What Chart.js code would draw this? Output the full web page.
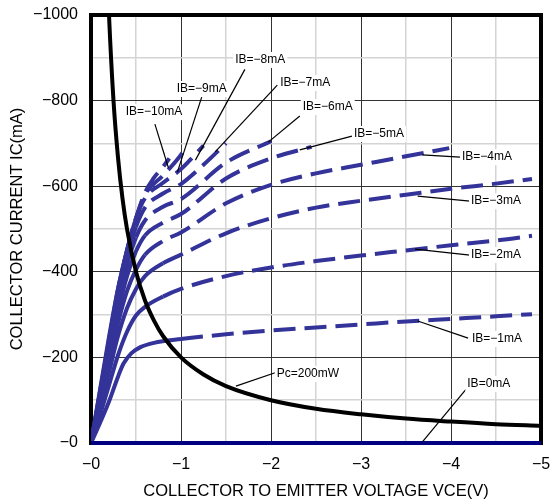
<!DOCTYPE html>
<html><head><meta charset="utf-8">
<script src="https://cdn.jsdelivr.net/npm/chart.js@4.4.0/dist/chart.umd.min.js"></script>
<style>html,body{margin:0;padding:0;background:#fff}</style>
</head><body>
<canvas id="c" width="550" height="501" style="display:block;width:550px;height:501px"></canvas>
<script>
// ---------- data ----------
const X_TICK_LABELS = [0, -1, -2, -3, -4, -5];
const Y_TICK_LABELS = [0, -200, -400, -600, -800, -1000];

const PC_LABEL = 'Pc=200mW';
const VCE_PC = [-0.18, -0.2, -0.25, -0.3, -0.35, -0.4, -0.5, -0.6, -0.7, -0.8, -1, -1.25, -1.5, -2, -2.5, -3, -3.5, -4, -4.5, -5];
const IC_PC  = [-1111, -1000, -800, -667, -571, -500, -400, -333, -286, -250, -200, -160, -133, -100, -80, -67, -57, -50, -44, -40];

const IB_LABELS = ['IB=0mA', 'IB=−1mA', 'IB=−2mA', 'IB=−3mA', 'IB=−4mA', 'IB=−5mA', 'IB=−6mA', 'IB=−7mA', 'IB=−8mA', 'IB=−9mA', 'IB=−10mA'];

const VCE_IB0  = [0, -5];
const IC_IB0   = [0, 0];
const VCE_IB1  = [0, -0.1, -0.2, -0.3, -0.36, -0.45, -0.55, -0.7, -1.0, -1.5, -2, -2.5, -3, -3.5, -4, -4.5, -4.9];
const IC_IB1   = [0, -47, -97, -155, -185, -210, -224, -234, -243, -254, -263, -270, -277, -284, -290, -296, -301];
const VCE_IB2  = [0, -0.1, -0.2, -0.3, -0.4, -0.5, -0.6, -0.8, -1.0, -1.5, -2, -2.5, -3, -3.5, -4, -4.5, -4.9];
const IC_IB2   = [0, -65, -135, -205, -260, -298, -318, -342, -360, -390, -410, -425, -438, -450, -462, -473, -484];
const VCE_IB3  = [0, -0.1, -0.2, -0.3, -0.4, -0.5, -0.6, -0.8, -1.0, -1.5, -2, -2.5, -3, -3.5, -4, -4.5, -4.9];
const IC_IB3   = [0, -80, -165, -250, -315, -360, -390, -420, -440, -490, -525, -550, -566, -580, -594, -606, -617];
const VCE_IB4  = [0, -0.1, -0.2, -0.3, -0.4, -0.5, -0.6, -0.8, -1.0, -1.5, -2, -2.5, -3, -3.5, -3.98];
const IC_IB4   = [0, -90, -185, -280, -355, -405, -440, -472, -492, -560, -603, -630, -650, -670, -689];
const VCE_IB5  = [0, -0.1, -0.2, -0.3, -0.4, -0.5, -0.6, -0.8, -1.0, -1.5, -2, -2.45];
const IC_IB5   = [0, -98, -200, -305, -390, -448, -485, -515, -535, -618, -665, -692];
const VCE_IB6  = [0, -0.1, -0.2, -0.3, -0.4, -0.5, -0.6, -0.8, -1.0, -1.5, -2.0];
const IC_IB6   = [0, -104, -212, -322, -415, -480, -520, -552, -570, -655, -705];
const VCE_IB7  = [0, -0.1, -0.2, -0.3, -0.4, -0.5, -0.6, -0.8, -1.0, -1.25, -1.5];
const IC_IB7   = [0, -110, -222, -338, -435, -505, -550, -583, -605, -650, -700];
const VCE_IB8  = [0, -0.1, -0.2, -0.3, -0.4, -0.5, -0.6, -0.8, -1.0, -1.25];
const IC_IB8   = [0, -115, -232, -350, -450, -525, -572, -608, -640, -695];
const VCE_IB9  = [0, -0.1, -0.2, -0.3, -0.4, -0.5, -0.6, -0.8, -0.95, -1.05];
const IC_IB9   = [0, -120, -240, -360, -450, -525, -580, -625, -660, -688];
const VCE_IB10 = [0, -0.1, -0.2, -0.3, -0.4, -0.5, -0.6, -0.7, -0.8, -0.87];
const IC_IB10  = [0, -124, -248, -360, -450, -525, -585, -620, -645, -665];

// ---------- styles ----------
const FAMILY = '"Liberation Sans", Arial, sans-serif';
const CURVE_COLOR = '#333399';
const DASH_FROM = [0, 0.9, 0.8, 0.7, 0.6, 0.55, 0.5, 0.45, 0.42, 0.4, 0.38]; // |VCE| where dashing starts

const SERIES = [
  [VCE_IB0, IC_IB0], [VCE_IB1, IC_IB1], [VCE_IB2, IC_IB2], [VCE_IB3, IC_IB3], [VCE_IB4, IC_IB4],
  [VCE_IB5, IC_IB5], [VCE_IB6, IC_IB6], [VCE_IB7, IC_IB7], [VCE_IB8, IC_IB8], [VCE_IB9, IC_IB9], [VCE_IB10, IC_IB10]
];

const toPoints = (xs, ys) => xs.map((x, i) => ({x, y: ys[i]}));

const datasets = [{
  label: PC_LABEL,
  data: toPoints(VCE_PC, IC_PC),
  borderColor: '#000',
  borderWidth: 4,
  cubicInterpolationMode: 'monotone',
  pointRadius: 0,
  clip: 0,
  order: 0
}];
SERIES.forEach(([xs, ys], i) => {
  if (i === 0) {
    datasets.push({label: IB_LABELS[0], data: toPoints(xs, ys), borderColor: '#000080', borderWidth: 4, pointRadius: 0, order: 1, clip: false});
  } else {
    const from = DASH_FROM[i];
    datasets.push({
      label: IB_LABELS[i],
      data: toPoints(xs, ys),
      borderColor: CURVE_COLOR,
      borderWidth: 4,
      pointRadius: 0,
      cubicInterpolationMode: 'monotone',
      order: 2,
      segment: {
        borderDash: c => Math.abs(c.p0.parsed.x) >= from - 1e-9 ? [22, 9] : undefined
      }
    });
  }
});

// annotation layout (data coordinates)
const ANNOTS = [
  {text: 'IB=−10mA', at: [-0.70, -773], from: [-0.71, -745], to: [-0.86, -643]},
  {text: 'IB=−9mA',  at: [-1.23, -827], from: [-1.23, -808], to: [-0.96, -633]},
  {text: 'IB=−8mA',  at: [-1.88, -895], from: [-1.71, -873], to: [-1.16, -661]},
  {text: 'IB=−7mA',  at: [-2.38, -841], from: [-2.07, -836], to: [-1.38, -680]},
  {text: 'IB=−6mA',  at: [-2.63, -785], from: [-2.32, -764], to: [-1.97, -703]},
  {text: 'IB=−5mA',  at: [-3.20, -722], from: [-2.90, -717], to: [-2.32, -685]},
  {text: 'IB=−4mA',  at: [-4.40, -668], from: [-4.10, -668], to: [-3.68, -673]},
  {text: 'IB=−3mA',  at: [-4.50, -565], from: [-4.21, -565], to: [-3.63, -577]},
  {text: 'IB=−2mA',  at: [-4.50, -439], from: [-4.21, -439], to: [-3.60, -453]},
  {text: 'IB=−1mA',  at: [-4.51, -243], from: [-4.19, -245], to: [-3.63, -285]},
  {text: 'IB=0mA',   at: [-4.42, -138], from: [-4.18, -129], to: [-3.68, -2]},
  {text: 'Pc=200mW', at: [-2.41, -161], from: [-2.07, -166], to: [-1.61, -133]}
];

const framePlugin = {
  id: 'frame',
  beforeDatasetsDraw(chart) {
    const {ctx, chartArea: a} = chart;
    ctx.save();
    ctx.strokeStyle = '#000';
    ctx.lineWidth = 4;
    ctx.strokeRect(a.left, a.top, a.right - a.left, a.bottom - a.top);
    ctx.restore();
  }
};

const annotPlugin = {
  id: 'annots',
  afterDatasetsDraw(chart) {
    const {ctx, scales: {x, y}} = chart;
    ctx.save();
    ctx.strokeStyle = '#000';
    ctx.lineWidth = 1.2;
    ANNOTS.forEach(a => {
      ctx.beginPath();
      ctx.moveTo(x.getPixelForValue(a.from[0]), y.getPixelForValue(a.from[1]));
      ctx.lineTo(x.getPixelForValue(a.to[0]), y.getPixelForValue(a.to[1]));
      ctx.stroke();
    });
    ctx.font = '12px ' + FAMILY;
    ctx.textAlign = 'center';
    ctx.textBaseline = 'middle';
    ANNOTS.forEach(a => {
      const px = x.getPixelForValue(a.at[0]), py = y.getPixelForValue(a.at[1]);
      const w = ctx.measureText(a.text).width;
      ctx.fillStyle = '#fff';
      ctx.fillRect(px - w / 2 - 2, py - 8, w + 4, 16);
      ctx.fillStyle = '#000';
      ctx.fillText(a.text, px, py);
    });
    ctx.restore();
  }
};

const isMultiple = (v, step) => Math.abs(v / step - Math.round(v / step)) < 1e-6;
const fmtNeg = v => '−' + Math.abs(Math.round(v));

new Chart(document.getElementById('c'), {
  type: 'line',
  data: {datasets},
  options: {
    responsive: false,
    animation: false,
    devicePixelRatio: 1,
    layout: {padding: {top: 15, right: 9, left: 0, bottom: 0}},
    plugins: {legend: {display: false}, tooltip: {enabled: false}},
    scales: {
      x: {
        type: 'linear', min: -5, max: 0, reverse: true,
        ticks: {
          stepSize: 0.5, autoSkip: false, maxRotation: 0, padding: 12, color: '#000',
          font: {family: FAMILY, size: 16},
          callback: v => X_TICK_LABELS.some(t => Math.abs(t - v) < 1e-6) ? fmtNeg(v) : ''
        },
        grid: {
          drawTicks: false,
          color: c => isMultiple(c.tick.value, 1) ? '#333' : '#d4d4d4',
          lineWidth: c => isMultiple(c.tick.value, 1) ? 1 : 1.5
        },
        border: {display: false},
        title: {display: true, text: 'COLLECTOR TO EMITTER VOLTAGE VCE(V)', color: '#000',
          font: {family: FAMILY, size: 16.5}, padding: {top: 0, bottom: 0}},
        afterFit: s => { s.height = 58; s.paddingLeft = 0; s.paddingRight = 0; }
      },
      y: {
        type: 'linear', min: -1000, max: 0, reverse: true,
        ticks: {
          stepSize: 100, autoSkip: false, padding: 13, color: '#000',
          font: {family: FAMILY, size: 16},
          callback: v => Y_TICK_LABELS.some(t => Math.abs(t - v) < 1e-6) ? fmtNeg(v) : ''
        },
        grid: {
          drawTicks: false,
          color: c => isMultiple(c.tick.value, 200) ? '#333' : '#d4d4d4',
          lineWidth: c => isMultiple(c.tick.value, 200) ? 1 : 1.5
        },
        border: {display: false},
        title: {display: true, text: 'COLLECTOR CURRENT IC(mA)', color: '#000',
          font: {family: FAMILY, size: 16.5}, padding: {top: 8, bottom: 0}},
        afterFit: s => { s.width = 91; s.paddingTop = 0; s.paddingBottom = 0; }
      }
    }
  },
  plugins: [framePlugin, annotPlugin]
});
</script>
</body></html>
